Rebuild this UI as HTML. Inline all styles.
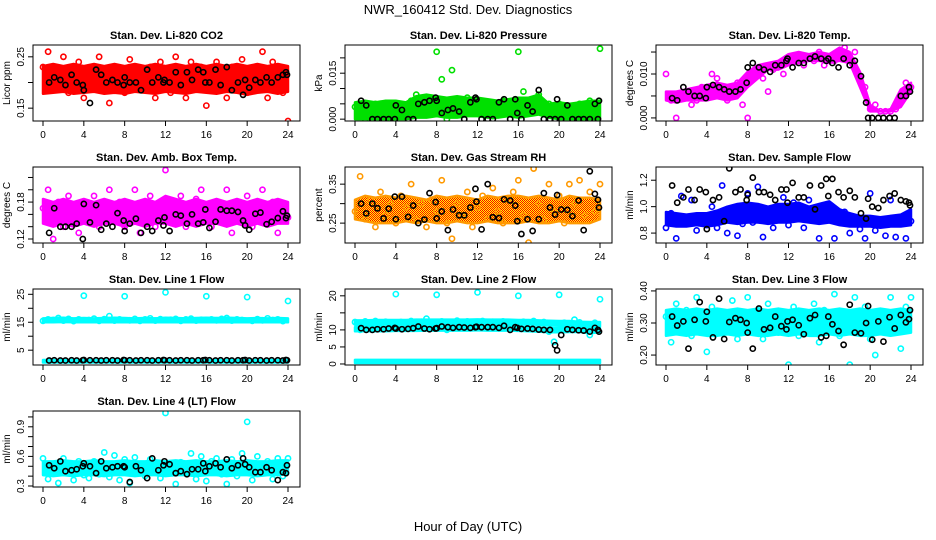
<!DOCTYPE html>
<html><head><meta charset="utf-8"><style>
html,body{margin:0;padding:0;background:#fff}
svg{display:block}
text{font-family:"Liberation Sans",sans-serif}
</style></head><body>
<svg id="chart" width="936" height="540" viewBox="0 0 936 540" xmlns="http://www.w3.org/2000/svg">
<defs>
<pattern id="orangePat" width="2" height="2" patternUnits="userSpaceOnUse">
<rect width="2" height="2" fill="#ffff00"/><rect width="1" height="1" fill="#ff0000"/><rect x="1" y="1" width="1" height="1" fill="#ff0000"/>
</pattern>
</defs>
<text x="468" y="14" text-anchor="middle" font-size="13">NWR_160412 Std. Dev. Diagnostics</text>
<text x="468" y="531" text-anchor="middle" font-size="13">Hour of Day (UTC)</text>
</svg>
<script>
const mainX=[0,0.5,1,1.5,2,2.5,3,3.5,4,4.5,5,5.5,6,6.5,7,7.5,8,8.5,9,9.5,10,10.5,11,11.5,12,12.5,13,13.5,14,14.5,15,15.5,16,16.5,17,17.5,18,18.5,19,19.5,20,20.5,21,21.5,22,22.5,23,23.5,24];
const blackX=[0.6,1.1,1.7,2.2,2.8,3.3,3.9,4.0,4.6,5.2,5.7,6.2,6.8,7.3,7.9,8.0,8.5,9.1,9.6,10.2,10.7,11.3,11.8,11.9,12.4,13.0,13.5,14.1,14.6,15.2,15.7,15.9,16.3,16.9,17.4,18.0,18.5,19.1,19.6,19.8,20.2,20.8,21.3,21.9,22.4,23.0,23.5,23.8,23.9];
const bandHours=[0,1,2,3,4,5,6,7,8,9,10,11,12,13,14,15,16,17,18,19,20,21,22,23,24];
const xTicks=[0,4,8,12,16,20,24];

const titles=["Stan. Dev. Li-820 CO2","Stan. Dev. Li-820 Pressure","Stan. Dev. Li-820 Temp.","Stan. Dev. Amb. Box Temp.","Stan. Dev. Gas Stream RH","Stan. Dev. Sample Flow","Stan. Dev. Line 1 Flow","Stan. Dev. Line 2 Flow","Stan. Dev. Line 3 Flow","Stan. Dev. Line 4 (LT) Flow"];
const yTitles=["Licor ppm","kPa","degrees C","degrees C","percent","ml/min","ml/min","ml/min","ml/min","ml/min"];
const yTicks=[[0.15,0.20,0.25],[0,0.005,0.010,0.015,0.020],[0,0.005,0.010,0.015],[0.12,0.14,0.16,0.18,0.20,0.22],[0.25,0.30,0.35],[0.8,1.0,1.2],[5,10,15,20,25],[0,5,10,15,20],[0.20,0.30,0.40],[0.3,0.4,0.5,0.6,0.7,0.8,0.9,1.0]];
const yTickLabels=[["0.15","","0.25"],["0.000","","","0.015",""],["0.000","","0.010",""],["0.12","","","0.18","",""],["0.25","","0.35"],["0.8","1.0","1.2"],["5","","15","","25"],["0","5","10","","20"],["0.20","0.30","0.40"],["0.3","","","0.6","","","0.9",""]];
const yDomains=[[0.125,0.273],[-0.0006,0.0242],[-0.0007,0.0166],[0.1135,0.237],[0.199,0.394],[0.725,1.30],[-0.3,26.9],[-0.3,22],[0.169,0.406],[0.29,1.06]];
const colors=["#ff0000","#00e000","#ff00ff","#ff00ff","url(#orangePat)","#0000ff","#00ffff","#00ffff","#00ffff","#00ffff"];
const strokeColors=["#ff0000","#00e000","#ff00ff","#ff00ff","#ff9900","#0000ff","#00ffff","#00ffff","#00ffff","#00ffff"];

const bandLo=[
[[0.178,0.18,0.182,0.178,0.18,0.182,0.178,0.18,0.178,0.182,0.18,0.178,0.182,0.18,0.178,0.182,0.18,0.178,0.182,0.18,0.176,0.18,0.182,0.178,0.182]],
[[0,0,0,0,0,0,0.0005,0.0005,0.001,0.0005,0.0005,0.001,0.001,0.0005,0.0005,0.001,0.0005,0.001,0.0015,0.0005,0,0,0,0,0]],
[[0.004,0.0035,0.004,0.004,0.004,0.0045,0.004,0.0045,0.007,0.009,0.011,0.011,0.012,0.0125,0.013,0.013,0.0125,0.013,0.0125,0.007,0.0015,0.0015,0.0015,0.0025,0.006]],
[[0.145,0.14,0.145,0.14,0.145,0.14,0.145,0.145,0.14,0.145,0.14,0.145,0.145,0.14,0.145,0.14,0.145,0.145,0.14,0.145,0.14,0.145,0.14,0.145,0.145]],
[[0.26,0.255,0.25,0.25,0.25,0.255,0.25,0.255,0.25,0.25,0.255,0.25,0.25,0.255,0.25,0.25,0.25,0.255,0.25,0.25,0.255,0.25,0.25,0.25,0.26]],
[[0.86,0.85,0.85,0.86,0.85,0.86,0.88,0.87,0.88,0.88,0.87,0.88,0.88,0.89,0.88,0.87,0.88,0.86,0.85,0.85,0.85,0.84,0.85,0.85,0.86]],
[[15.0,15.0,15.1,15.0,15.0,15.0,15.0,15.0,15.0,15.0,15.0,15.0,15.0,15.0,15.0,15.0,15.0,15.0,15.0,15.0,15.0,15.0,15.0,15.0,15.0],[0.6,0.6,0.6,0.6,0.6,0.6,0.6,0.6,0.6,0.6,0.6,0.6,0.6,0.6,0.6,0.6,0.6,0.6,0.6,0.6,0.6,0.6,0.6,0.6,0.6]],
[[11.5,11.5,11.5,11.6,11.6,11.6,11.6,11.7,11.7,11.7,11.7,11.7,11.7,11.7,11.7,11.7,11.6,11.6,11.5,11.3,11.2,11.2,11.0,11.0,11.0],[9.6,9.6,9.6,9.6,9.7,9.7,9.7,9.8,9.8,9.8,9.8,9.8,9.9,9.8,9.8,9.8,9.7,9.6,9.5,9.3,9.3,9.4,9.4,9.0,9.3],[0.3,0.3,0.3,0.3,0.3,0.3,0.3,0.3,0.3,0.3,0.3,0.3,0.3,0.3,0.3,0.3,0.3,0.3,0.3,0.3,0.3,0.3,0.3,0.3,0.3]],
[[0.26,0.265,0.26,0.265,0.26,0.26,0.265,0.26,0.265,0.26,0.26,0.265,0.26,0.265,0.26,0.26,0.265,0.26,0.265,0.26,0.26,0.265,0.26,0.265,0.27]],
[[0.41,0.4,0.41,0.4,0.41,0.41,0.4,0.41,0.41,0.4,0.41,0.41,0.4,0.41,0.41,0.4,0.41,0.41,0.4,0.41,0.41,0.4,0.41,0.41,0.42]]
];
const bandHi=[
[[0.232,0.236,0.232,0.236,0.232,0.236,0.232,0.236,0.232,0.236,0.232,0.236,0.232,0.236,0.232,0.236,0.232,0.236,0.232,0.236,0.232,0.236,0.232,0.236,0.232]],
[[0.0055,0.006,0.0055,0.006,0.006,0.0055,0.0075,0.008,0.0075,0.007,0.0075,0.007,0.007,0.0065,0.006,0.0065,0.007,0.007,0.008,0.005,0.0055,0.005,0.0055,0.006,0.006]],
[[0.006,0.006,0.0065,0.007,0.0075,0.008,0.0075,0.008,0.0105,0.012,0.0125,0.013,0.0145,0.015,0.0145,0.015,0.0145,0.016,0.015,0.0105,0.003,0.0015,0.002,0.0065,0.008]],
[[0.185,0.18,0.185,0.18,0.185,0.18,0.185,0.18,0.185,0.18,0.185,0.18,0.19,0.185,0.18,0.185,0.18,0.185,0.18,0.185,0.18,0.185,0.18,0.185,0.18]],
[[0.31,0.32,0.315,0.32,0.315,0.32,0.315,0.31,0.32,0.315,0.32,0.315,0.31,0.32,0.315,0.32,0.32,0.315,0.32,0.315,0.31,0.32,0.315,0.315,0.31]],
[[0.96,0.95,0.94,0.95,0.95,0.97,1.0,1.02,1.03,1.02,1.0,1.02,1.02,1.03,1.0,1.02,1.04,0.98,0.95,0.93,0.93,0.92,0.93,0.94,0.98]],
[[16.4,16.5,16.6,16.4,16.5,16.4,16.5,16.6,16.5,16.4,16.5,16.4,16.6,16.5,16.4,16.5,16.6,16.5,16.6,16.5,16.4,16.5,16.4,16.5,16.4],[1.5,1.5,1.5,1.5,1.5,1.5,1.5,1.5,1.5,1.5,1.5,1.5,1.5,1.5,1.5,1.5,1.5,1.5,1.5,1.5,1.5,1.5,1.5,1.5,1.5]],
[[12.8,12.8,12.9,12.9,12.9,12.9,13.0,13.0,13.0,13.0,13.0,13.0,13.1,13.0,13.0,13.0,12.9,12.9,12.8,12.7,12.6,12.6,12.4,12.3,12.3],[10.8,10.8,10.8,10.9,10.9,10.9,11.0,11.0,11.0,11.0,11.0,11.0,11.1,11.0,11.0,11.0,10.9,10.8,10.7,10.5,10.5,10.6,10.6,10.4,10.5],[1.2,1.2,1.2,1.2,1.2,1.2,1.2,1.2,1.2,1.2,1.2,1.2,1.2,1.2,1.2,1.2,1.2,1.2,1.2,1.2,1.2,1.2,1.2,1.2,1.2]],
[[0.34,0.345,0.34,0.345,0.34,0.345,0.34,0.345,0.34,0.345,0.34,0.345,0.34,0.345,0.34,0.345,0.34,0.345,0.34,0.345,0.34,0.345,0.34,0.345,0.34]],
[[0.55,0.55,0.56,0.55,0.55,0.56,0.55,0.55,0.56,0.55,0.55,0.56,0.55,0.56,0.55,0.56,0.55,0.55,0.56,0.55,0.56,0.55,0.55,0.56,0.56]]
];
const mainY=[
[0.23,0.26,0.19,0.22,0.25,0.18,0.21,0.24,0.17,0.22,0.19,0.25,0.2,0.16,0.23,0.21,0.18,0.245,0.2,0.22,0.19,0.23,0.17,0.24,0.21,0.18,0.25,0.22,0.17,0.24,0.2,0.23,0.155,0.19,0.24,0.21,0.17,0.23,0.2,0.245,0.18,0.22,0.19,0.26,0.17,0.24,0.21,0.18,0.125],
[0.004,0.005,0.0,0.003,0.005,0.002,0.004,0.0,0.005,0.003,0.001,0.006,0.008,0.004,0.007,0.003,0.022,0.013,0.0,0.016,0.006,0.003,0.007,0.004,0.006,0.002,0.005,0.001,0.004,0.006,0.003,0.005,0.022,0.009,0.004,0.006,0.008,0.002,0.005,0.003,0.005,0.001,0.004,0.002,0.005,0.0,0.006,0.003,0.023],
[0.010,0.004,0.000,0.005,0.006,0.003,0.004,0.007,0.006,0.01,0.009,0.005,0.004,0.007,0.008,0.003,0.000,0.009,0.010,0.009,0.006,0.011,0.012,0.010,0.013,0.014,0.013,0.012,0.014,0.013,0.015,0.012,0.014,0.013,0.015,0.016,0.014,0.015,0.009,0.007,0.002,0.003,0.0015,0.0015,0.0015,0.002,0.004,0.008,0.007],
[0.17,0.2,0.12,0.18,0.14,0.19,0.16,0.13,0.175,0.15,0.19,0.14,0.165,0.2,0.15,0.18,0.14,0.17,0.2,0.13,0.16,0.19,0.14,0.175,0.232,0.15,0.17,0.19,0.14,0.165,0.185,0.2,0.155,0.14,0.18,0.16,0.2,0.13,0.17,0.15,0.19,0.14,0.165,0.2,0.15,0.18,0.13,0.17,0.155],
[0.28,0.37,0.26,0.31,0.24,0.33,0.27,0.3,0.25,0.32,0.29,0.35,0.26,0.3,0.24,0.31,0.28,0.36,0.25,0.21,0.3,0.27,0.33,0.24,0.29,0.32,0.26,0.34,0.28,0.25,0.31,0.33,0.36,0.27,0.2,0.39,0.3,0.26,0.35,0.28,0.32,0.25,0.35,0.3,0.36,0.27,0.33,0.28,0.35],
[0.84,0.95,0.76,1.08,0.88,1.05,0.82,0.92,0.86,1.0,0.84,1.16,0.8,0.93,0.78,0.87,1.1,0.88,1.15,0.77,0.9,0.84,0.98,1.07,0.86,1.03,0.92,0.84,1.05,0.9,0.76,0.98,1.0,0.76,0.88,0.96,0.8,0.9,0.83,0.76,1.1,0.82,0.9,0.78,1.05,0.77,0.88,0.76,0.89],
[15.5,16,15.8,16.5,15.6,16.2,15.4,16.0,24.5,15.8,16.3,15.5,16.1,17.2,15.6,16.0,24.3,15.7,16.2,15.5,16.0,16.4,15.6,16.1,25.7,15.9,16.2,15.5,16.0,16.3,15.6,15.9,24.3,16.0,15.7,16.2,16.5,15.6,16.0,15.8,24.0,15.5,16.1,15.7,16.4,15.8,16.0,15.4,22.6],
[12.3,10.0,12.5,11.8,12.6,12.0,12.4,12.1,20.5,12.3,11.9,12.6,12.2,12.4,13.3,12.0,20.3,12.5,10.0,12.3,12.7,12.1,12.5,12.3,21.0,12.6,12.2,12.4,12.0,12.5,12.3,12.1,20.0,12.4,12.2,12.6,12.0,12.3,9.5,6.5,20.3,12.1,11.8,13.0,12.2,11.5,8.5,12.1,19.0],
[0.32,0.24,0.36,0.28,0.34,0.26,0.38,0.3,0.21,0.35,0.27,0.33,0.29,0.37,0.25,0.31,0.38,0.28,0.34,0.25,0.36,0.3,0.27,0.33,0.17,0.35,0.26,0.32,0.29,0.36,0.24,0.34,0.3,0.39,0.26,0.32,0.17,0.38,0.28,0.35,0.25,0.2,0.33,0.27,0.38,0.3,0.22,0.35,0.38],
[0.58,0.37,0.44,0.33,0.58,0.5,0.36,0.55,0.41,0.38,0.55,0.42,0.64,0.39,0.61,0.36,0.57,0.33,0.59,0.45,0.4,0.57,0.5,0.38,1.04,0.46,0.32,0.54,0.43,0.63,0.37,0.6,0.35,0.55,0.58,0.42,0.32,0.57,0.4,0.63,0.95,0.36,0.6,0.44,0.55,0.37,0.58,0.4,0.58]
];
const blackY=[
[0.2,0.21,0.205,0.195,0.215,0.2,0.195,0.185,0.16,0.225,0.215,0.2,0.205,0.2,0.195,0.21,0.2,0.2,0.185,0.225,0.2,0.21,0.2,0.205,0.2,0.22,0.195,0.22,0.205,0.225,0.22,0.2,0.2,0.225,0.195,0.23,0.185,0.2,0.176,0.205,0.19,0.205,0.2,0.21,0.2,0.21,0.215,0.22,0.215],
[0.006,0.0045,0.0,0.0,0.0,0.0,0.0,0.0045,0.003,0.0,0.0,0.005,0.0055,0.006,0.007,0.006,0.002,0.003,0.0035,0.0025,0.0,0.0055,0.007,0.0065,0.0,0.0,0.0,0.0055,0.0065,0.0,0.0065,0.002,0.0,0.0045,0.0025,0.0095,0.0,0.0,0.0,0.0065,0.0,0.0045,0.0,0.0,0.0,0.0,0.005,0.0,0.006],
[0.0045,0.004,0.007,0.006,0.005,0.005,0.0045,0.007,0.0075,0.007,0.0065,0.006,0.006,0.0065,0.008,0.0115,0.0125,0.0115,0.011,0.0105,0.012,0.012,0.013,0.0135,0.0115,0.0125,0.0125,0.0135,0.014,0.0135,0.013,0.0135,0.0125,0.0115,0.0135,0.012,0.013,0.0095,0.0035,0.0,0.0,0.0,0.0,0.0,0.0,0.005,0.005,0.007,0.006],
[0.13,0.17,0.14,0.14,0.14,0.145,0.12,0.177,0.147,0.175,0.135,0.145,0.14,0.162,0.15,0.133,0.145,0.153,0.13,0.14,0.133,0.15,0.142,0.155,0.133,0.16,0.158,0.145,0.16,0.145,0.147,0.168,0.138,0.148,0.168,0.166,0.166,0.164,0.15,0.142,0.135,0.161,0.163,0.144,0.148,0.154,0.165,0.154,0.158],
[0.3,0.275,0.3,0.288,0.262,0.287,0.318,0.26,0.318,0.266,0.295,0.25,0.259,0.327,0.304,0.262,0.28,0.232,0.285,0.27,0.27,0.29,0.338,0.305,0.234,0.35,0.265,0.263,0.311,0.308,0.295,0.255,0.222,0.26,0.23,0.26,0.327,0.29,0.272,0.322,0.285,0.284,0.268,0.308,0.232,0.383,0.325,0.31,0.29],
[1.16,1.03,1.07,1.13,1.05,1.13,1.11,0.83,1.05,1.07,0.89,1.29,1.11,1.13,1.05,1.09,1.22,1.11,1.11,1.09,1.05,1.13,1.13,1.03,1.18,1.07,1.07,1.16,0.98,1.16,1.21,1.08,1.21,1.11,1.07,1.12,1.07,0.95,0.91,1.06,1.0,0.99,1.05,1.08,1.1,1.05,1.04,1.03,1.01],
[1.3,1.4,1.3,1.3,1.4,1.3,1.4,1.5,1.4,1.4,1.3,1.4,1.4,1.3,1.5,1.4,1.4,1.3,1.4,1.4,1.3,1.4,1.5,1.4,1.4,1.3,1.4,1.4,1.3,1.4,1.4,1.5,1.4,1.3,1.4,1.4,1.3,1.4,1.4,1.5,1.3,1.4,1.4,1.3,1.4,1.4,1.3,1.5,1.4],
[10.5,10.0,10.0,10.2,10.2,10.4,10.6,10.4,10.2,10.3,10.5,11.0,10.4,10.2,10.4,10.5,11.0,10.8,10.6,10.8,10.7,10.6,10.8,10.9,10.8,10.8,10.8,10.6,11.2,10.0,10.8,10.6,10.3,10.4,10.3,10.1,10.0,10.0,5.5,4.0,8.5,10.2,10.0,9.9,9.8,9.5,10.6,10.0,9.5],
[0.32,0.292,0.305,0.22,0.31,0.365,0.305,0.335,0.255,0.376,0.25,0.303,0.315,0.31,0.3,0.27,0.22,0.345,0.28,0.285,0.32,0.29,0.28,0.305,0.31,0.293,0.265,0.315,0.325,0.255,0.26,0.32,0.296,0.275,0.232,0.357,0.27,0.268,0.3,0.353,0.248,0.305,0.242,0.318,0.283,0.325,0.302,0.312,0.34],
[0.51,0.48,0.55,0.45,0.46,0.47,0.5,0.53,0.5,0.43,0.55,0.48,0.49,0.5,0.5,0.49,0.34,0.5,0.46,0.38,0.58,0.46,0.51,0.55,0.52,0.43,0.45,0.42,0.47,0.47,0.53,0.45,0.5,0.53,0.49,0.57,0.48,0.51,0.58,0.52,0.49,0.44,0.44,0.49,0.46,0.36,0.44,0.43,0.51]
];

const NS="http://www.w3.org/2000/svg";
const svg=document.getElementById('chart');
function mk(tag,attrs,parent){const e=document.createElementNS(NS,tag);for(const k in attrs)e.setAttribute(k,attrs[k]);(parent||svg).appendChild(e);return e;}
const colLeft=[33,345,656], rowTop=[45,167,289,411];
const boxW=267, boxH=76;

titles.forEach((t,i)=>{
  const bx=colLeft[i%3], by=rowTop[Math.floor(i/3)];
  const g=mk('g',{});
  
  
  const x0=bx+10, x1=bx+255;
  const xs=h=>x0+(x1-x0)*h/24;
  const [d0,d1]=yDomains[i];
  const ys=v=>by+boxH-(v-d0)/(d1-d0)*boxH;
  const clip=mk('clipPath',{id:'clip'+i},g);
  mk('rect',{x:bx,y:by,width:boxW,height:boxH},clip);
  const plot=mk('g',{'clip-path':'url(#clip'+i+')'},g);
  
  
  bandLo[i].forEach((lo,b)=>{
    const hi=bandHi[i][b];
    let pts=bandHours.map((h,k)=>xs(h)+','+ys(hi[k]));
    pts=pts.concat(bandHours.slice().reverse().map((h,k)=>xs(h)+','+ys(lo[lo.length-1-k])));
    const p=mk('polygon',{points:pts.join(' '),fill:colors[i],stroke:strokeColors[i],'stroke-width':2.5,'stroke-linejoin':'round'},plot);
    
    
  });
  mainY[i].forEach((v,k)=>{
    const c=mk('circle',{cx:xs(mainX[k]),cy:ys(v),r:2.6,fill:'none',stroke:strokeColors[i],'stroke-width':1.6},plot);
    
    
  });
  blackY[i].forEach((v,k)=>{
    const c=mk('circle',{cx:xs(blackX[k]),cy:ys(v),r:2.6,fill:'none',stroke:'#000','stroke-width':1.6},plot);
    
    
  });
  const box=mk('rect',{x:bx,y:by,width:boxW,height:boxH,fill:'none',stroke:'#000','stroke-width':1},g);
  
  
  const tt=mk('text',{x:bx+boxW/2,y:by-6,'text-anchor':'middle','font-size':11,'font-weight':'bold'},g);
  tt.textContent=t;
  
  
  xTicks.forEach(h=>{
    mk('line',{x1:xs(h),x2:xs(h),y1:by+boxH,y2:by+boxH+5,stroke:'#000'},g);
    const tx=mk('text',{x:xs(h),y:by+boxH+17,'text-anchor':'middle','font-size':10},g);
    tx.textContent=String(h);
    
    
  });
  yTicks[i].forEach((v,k)=>{
    const y=ys(v);
    mk('line',{x1:bx-5,x2:bx,y1:y,y2:y,stroke:'#000'},g);
    const lbl=yTickLabels[i][k];
    if(lbl){
      const ty=mk('text',{x:bx-9,y:y,'text-anchor':'middle','font-size':10,transform:'rotate(-90 '+(bx-9)+' '+y+')'},g);
      ty.textContent=lbl;
      
      
    }
  });
  const yt=mk('text',{x:bx-23,y:by+boxH/2,'text-anchor':'middle','font-size':10,transform:'rotate(-90 '+(bx-23)+' '+(by+boxH/2)+')'},g);
  yt.textContent=yTitles[i];
  
  
});
</script>
</body></html>
